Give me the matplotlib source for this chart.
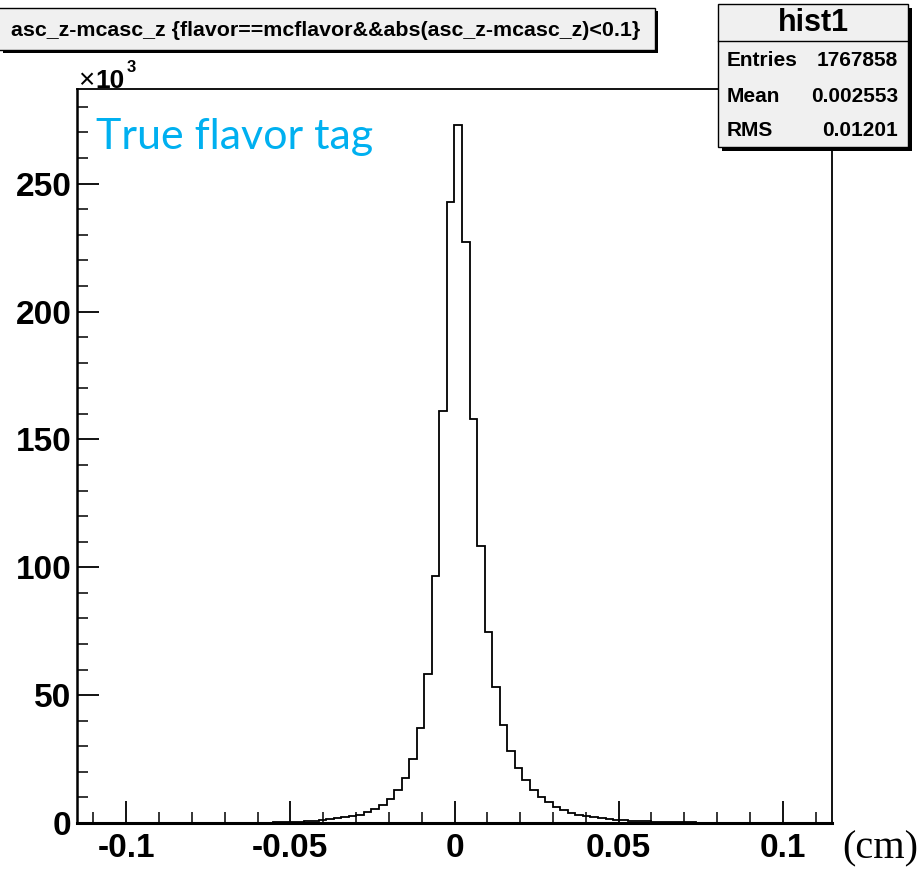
import numpy as np
import matplotlib
matplotlib.use("Agg")
import matplotlib.pyplot as plt
from matplotlib.patches import Rectangle
from matplotlib.ticker import FixedLocator, MultipleLocator

# histogram: 100 bins over [-0.115, 0.115], counts in units of 10^3
x_lo, x_hi, n_bins = -0.115, 0.115, 100
counts = [
    0, 0, 0, 0, 0, 0, 0.001, 0.001, 0.001, 0.001,
    0.001, 0.001, 0.002, 0.003, 0.004, 0.006, 0.009, 0.012, 0.018, 0.025,
    0.035, 0.05, 0.07, 0.1, 0.13, 0.18, 0.24, 0.32, 0.42, 0.55,
    0.7, 0.9, 1.15, 1.45, 1.8, 2.2, 2.7, 3.3, 4.2, 5.6,
    6.9, 9.5, 12.8, 17.4, 24.9, 37.0, 58.3, 96.4, 161.0, 243.0,
    273.0, 227.0, 158.0, 108.4, 74.6, 53.1, 38.3, 28.2, 21.5, 16.7,
    13.0, 10.2, 8.1, 6.4, 5.1, 4.0, 3.3, 2.7, 2.3, 1.9,
    1.6, 1.35, 1.1, 0.92, 0.77, 0.64, 0.53, 0.44, 0.36, 0.3,
    0.25, 0.2, 0.16, 0.13, 0.1, 0.08, 0.06, 0.05, 0.04, 0.03,
    0.025, 0.02, 0.015, 0.01, 0, 0, 0, 0, 0, 0,
]
x_ticks = [-0.1, -0.05, 0, 0.05, 0.1]
x_labels = ["-0.1", "-0.05", "0", "0.05", "0.1"]
y_ticks = [0, 50, 100, 150, 200, 250]

title = "asc_z-mcasc_z {flavor==mcflavor&&abs(asc_z-mcasc_z)<0.1}"
stats_name = "hist1"
stats = [("Entries", "1767858"), ("Mean", "0.002553"), ("RMS", "0.01201")]

W, H = 923, 872
fig = plt.figure(figsize=(W / 100, H / 100), dpi=100)
plt.rcParams['font.family'] = ['Liberation Sans', 'DejaVu Sans']


def fx(px):
    return px / W


def fy(py):
    return 1 - py / H


ax = fig.add_axes([fx(77), fy(823), fx(832) - fx(77), fy(89) - fy(823)])
edges = np.linspace(x_lo, x_hi, n_bins + 1)
ax.stairs(counts, edges, color="black", linewidth=1.3)
ax.set_xlim(x_lo, x_hi)
ax.set_ylim(0, 287)

for s in ax.spines.values():
    s.set_linewidth(1.3)
ax.spines["bottom"].set_linewidth(2.2)
ax.spines["left"].set_linewidth(1.8)

ax.xaxis.set_major_locator(FixedLocator(x_ticks))
ax.set_xticklabels(x_labels)
ax.xaxis.set_minor_locator(MultipleLocator(0.01))
ax.yaxis.set_major_locator(FixedLocator(y_ticks))
ax.yaxis.set_minor_locator(MultipleLocator(10))
ax.tick_params(which="both", direction="in", top=False, right=False, colors="black")
ax.tick_params(which="major", length=16, width=1.3, labelsize=24, pad=4)
ax.tick_params(which="minor", length=8, width=1.1)
ax.tick_params(axis="x", which="major", pad=7)
for lab in ax.get_xticklabels() + ax.get_yticklabels():
    lab.set_fontweight("bold")

# x10^3 multiplier
fig.text(fx(78), fy(88), "\u00d7", fontsize=20, va="baseline", ha="left")
fig.text(fx(95), fy(88), "10", fontsize=19, fontweight="bold", va="baseline", ha="left")
fig.text(fx(127), fy(72), "3", fontsize=12, fontweight="bold", va="baseline", ha="left")

# blue label
fig.text(fx(96), fy(149), "True flavor tag", fontsize=31, color="#00b0f0",
         family=["Lato", "DejaVu Sans"], va="baseline", ha="left")

# axis unit
fig.text(fx(880), fy(849), "(cm)", fontsize=29, family=["Liberation Serif", "DejaVu Serif"],
         va="center", ha="center")

# title box with shadow
fig.patches.append(Rectangle((fx(3), fy(53)), fx(655), fy(11) - fy(53), transform=fig.transFigure,
                             facecolor="black", edgecolor="none", zorder=5))
fig.patches.append(Rectangle((fx(-2), fy(50)), fx(657), fy(8) - fy(50), transform=fig.transFigure,
                             facecolor="#f0f0f0", edgecolor="black", linewidth=1, zorder=6))
fig.text(fx(326), fy(30), title, fontsize=15.4, fontweight="bold", va="center", ha="center", zorder=7)

# stats box with shadow
fig.patches.append(Rectangle((fx(722), fy(151)), fx(190), fy(8) - fy(151), transform=fig.transFigure,
                             facecolor="black", edgecolor="none", zorder=5))
fig.patches.append(Rectangle((fx(718), fy(147)), fx(190), fy(4) - fy(147), transform=fig.transFigure,
                             facecolor="#f0f0f0", edgecolor="black", linewidth=1, zorder=6))
fig.lines.append(plt.Line2D([fx(718), fx(908)], [fy(41), fy(41)], transform=fig.transFigure,
                            color="black", linewidth=1, zorder=7))
fig.text(fx(813), fy(23), stats_name, fontsize=22, fontweight="bold", va="center", ha="center", zorder=7)
for i, (k, v) in enumerate(stats):
    yy = fy(61 + i * 35)
    fig.text(fx(727), yy, k, fontsize=15, fontweight="bold", va="center", ha="left", zorder=7)
    fig.text(fx(898), yy, v, fontsize=15, fontweight="bold", va="center", ha="right", zorder=7)

fig.savefig("out.png", dpi=100)
